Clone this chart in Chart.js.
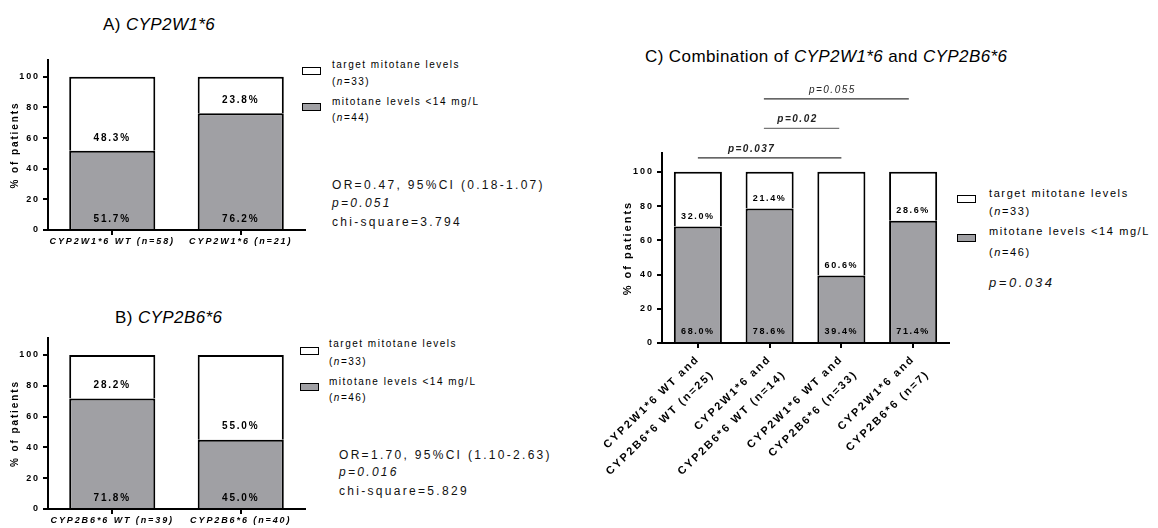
<!DOCTYPE html>
<html lang="en">
<head>
  <meta charset="UTF-8" />
  <title>Mitotane levels by genotype</title>
  <script src="https://cdn.jsdelivr.net/npm/chart.js"></script>
  <style>
    body {
      margin: 0;
      width: 1158px;
      height: 528px;
      background: #fff;
      font-family: "Liberation Sans", Arial, sans-serif;
      position: relative;
      overflow: hidden;
    }
    .box { position: absolute; }
    .t {
      position: absolute;
      white-space: nowrap;
      line-height: 1;
      transform: translateY(-50%);
      color: #000;
    }
    .title { font-size: 17px; letter-spacing: 0.4px; }
    .leg { font-size: 10px; letter-spacing: 1.5px; }
    .legc { font-size: 11px; letter-spacing: 1.6px; }
    .stat { font-size: 12px; letter-spacing: 2.3px; color: #111; }
    .sw {
      position: absolute;
      width: 17px;
      height: 6px;
      border: 1.6px solid #000;
    }
    i { font-style: italic; }
  </style>
</head>
<body>
  <!-- titles -->
  <div class="t title" style="left:103px;top:24px">A) <i>CYP2W1*6</i></div>
  <div class="t title" style="left:115px;top:317px">B) <i>CYP2B6*6</i></div>
  <div class="t title" style="left:645px;top:56px">C) Combination of <i>CYP2W1*6</i> and <i>CYP2B6*6</i></div>

  <!-- legend A -->
  <div class="sw" style="left:302px;top:67px;background:#fff"></div>
  <div class="sw" style="left:302px;top:103px;background:#a0a0a4"></div>
  <div class="t leg" style="left:332px;top:65px">target mitotane levels</div>
  <div class="t leg" style="left:332px;top:82px">(<i>n</i>=33)</div>
  <div class="t leg" style="left:332px;top:102px">mitotane levels &lt;14 mg/L</div>
  <div class="t leg" style="left:332px;top:118px">(<i>n</i>=44)</div>
  <div class="t stat" style="left:332px;top:185px">OR=0.47, 95%CI (0.18-1.07)</div>
  <div class="t stat" style="left:332px;top:203px"><i>p=0.051</i></div>
  <div class="t stat" style="left:332px;top:222px">chi-square=3.794</div>

  <!-- legend B -->
  <div class="sw" style="left:300px;top:347px;background:#fff"></div>
  <div class="sw" style="left:300px;top:383px;background:#a0a0a4"></div>
  <div class="t leg" style="left:329px;top:344px">target mitotane levels</div>
  <div class="t leg" style="left:329px;top:362px">(<i>n</i>=33)</div>
  <div class="t leg" style="left:329px;top:382px">mitotane levels &lt;14 mg/L</div>
  <div class="t leg" style="left:329px;top:398px">(<i>n</i>=46)</div>
  <div class="t stat" style="left:339px;top:455px">OR=1.70, 95%CI (1.10-2.63)</div>
  <div class="t stat" style="left:339px;top:472px"><i>p=0.016</i></div>
  <div class="t stat" style="left:339px;top:491px">chi-square=5.829</div>

  <!-- legend C -->
  <div class="sw" style="left:957px;top:195px;background:#fff"></div>
  <div class="sw" style="left:957px;top:234px;background:#a0a0a4"></div>
  <div class="t legc" style="left:989px;top:193px">target mitotane levels</div>
  <div class="t legc" style="left:989px;top:211px">(<i>n</i>=33)</div>
  <div class="t legc" style="left:989px;top:231px">mitotane levels &lt;14 mg/L</div>
  <div class="t legc" style="left:989px;top:252px">(<i>n</i>=46)</div>
  <div class="t stat" style="left:989px;top:282px;font-size:13px;letter-spacing:2.6px"><i>p=0.034</i></div>

  <div class="box" style="left:0;top:50px"><canvas id="chartA" width="310" height="200"></canvas></div>
  <div class="box" style="left:0;top:328px"><canvas id="chartB" width="310" height="200"></canvas></div>
  <div class="box" style="left:590px;top:80px"><canvas id="chartC" width="365" height="420"></canvas></div>

  <script>
    // panel A: CYP2W1*6
    const catsA = ['CYP2W1*6 WT (n=58)', 'CYP2W1*6 (n=21)'];
    const lowA = [51.7, 76.2];     // mitotane levels <14 mg/L
    const targetA = [48.3, 23.8];  // target mitotane levels

    // panel B: CYP2B6*6
    const catsB = ['CYP2B6*6 WT (n=39)', 'CYP2B6*6 (n=40)'];
    const lowB = [71.8, 45.0];
    const targetB = [28.2, 55.0];

    // panel C: combination
    const catsC = [
      ['CYP2W1*6 WT and', 'CYP2B6*6 WT (n=25)'],
      ['CYP2W1*6 and', 'CYP2B6*6 WT (n=14)'],
      ['CYP2W1*6 WT and', 'CYP2B6*6 (n=33)'],
      ['CYP2W1*6 and', 'CYP2B6*6 (n=7)']
    ];
    const lowC = [68.0, 78.6, 39.4, 71.4];
    const targetC = [32.0, 21.4, 60.6, 28.6];

    // pairwise comparisons drawn above panel C (category indexes)
    const compFrom = [0, 0.92, 0.92];
    const compTo = [2, 1.97, 2.94];
    const compP = ['p=0.037', 'p=0.02', 'p=0.055'];

    const yTicks = [0, 20, 40, 60, 80, 100];

    const GREY = '#a0a0a4';
    const FONT = '"Liberation Sans", Arial, sans-serif';

    // canvas letter spacing for axis text
    const spacing = {
      id: 'spacing',
      beforeLayout(c, a, o) { c.ctx.letterSpacing = o.px; },
      beforeDraw(c, a, o) { c.ctx.letterSpacing = o.px; }
    };

    // percentage labels inside each segment
    const segLabels = {
      id: 'segLabels',
      afterDatasetsDraw(chart, args, o) {
        const ctx = chart.ctx;
        ctx.save();
        ctx.font = o.font;
        ctx.letterSpacing = o.px;
        ctx.fillStyle = '#000';
        ctx.textAlign = 'center';
        ctx.textBaseline = 'middle';
        chart.data.datasets.forEach((ds, di) => {
          chart.getDatasetMeta(di).data.forEach((bar, i) => {
            ctx.fillText(ds.data[i].toFixed(1) + '%', bar.x, bar.base - o.offsets[di]);
          });
        });
        ctx.restore();
      }
    };

    // significance lines for panel C
    const sigLines = {
      id: 'sigLines',
      afterDraw(chart) {
        const ctx = chart.ctx;
        const x = chart.scales.x, y = chart.scales.y;
        const y100 = y.getPixelForValue(100);
        ctx.save();
        ctx.letterSpacing = '1.5px';
        ctx.textAlign = 'center';
        ctx.textBaseline = 'bottom';
        compP.forEach((p, i) => {
          const x1 = x.getPixelForValue(compFrom[i]);
          const x2 = x.getPixelForValue(compTo[i]);
          const ly = y100 - 14 - i * 29.5;
          ctx.strokeStyle = i === 1 ? '#777' : '#333';
          ctx.lineWidth = 1.3;
          ctx.beginPath();
          ctx.moveTo(x1, ly);
          ctx.lineTo(x2, ly);
          ctx.stroke();
          ctx.fillStyle = '#222';
          ctx.font = (i < 2 ? 'italic bold ' : 'italic ') + '10px ' + FONT;
          ctx.fillText(p, (x1 + x2) / 2 - (i === 0 ? 18 : 4), ly - 4);
        });
        ctx.restore();
      }
    };

    function makeChart(id, cats, low, target, cfg) {
      const grid = {
        display: true,
        drawOnChartArea: false,
        drawTicks: true,
        tickLength: 5,
        offset: false,
        color: '#000',
        lineWidth: 2
      };
      return new Chart(document.getElementById(id), {
        type: 'bar',
        data: {
          labels: cats,
          datasets: [
            { label: 'mitotane levels <14 mg/L', data: low, backgroundColor: GREY },
            { label: 'target mitotane levels', data: target, backgroundColor: '#fff' }
          ]
        },
        options: {
          responsive: false,
          animation: false,
          devicePixelRatio: 1,
          layout: { padding: cfg.padding },
          datasets: {
            bar: {
              borderColor: '#000',
              borderWidth: 2,
              borderSkipped: 'start',
              barPercentage: 0.67,
              categoryPercentage: 1
            }
          },
          plugins: {
            legend: { display: false },
            tooltip: { enabled: false },
            spacing: { px: cfg.spacing },
            segLabels: { font: cfg.segFont, px: cfg.segSpacing, offsets: cfg.offsets }
          },
          scales: {
            x: {
              stacked: true,
              grid: grid,
              border: { color: '#000', width: 2 },
              ticks: {
                color: '#000',
                font: cfg.xFont,
                padding: cfg.xPad,
                autoSkip: false,
                minRotation: cfg.rotation,
                maxRotation: cfg.rotation
              },
              afterFit(s) {
                s.height = cfg.xHeight;
                s.paddingLeft = 0;
                s.paddingRight = 0;
              }
            },
            y: {
              stacked: true,
              min: 0,
              max: 111,
              grid: grid,
              border: { color: '#000', width: 2 },
              afterBuildTicks(s) { s.ticks = yTicks.map(v => ({ value: v })); },
              ticks: { color: '#000', font: { family: FONT, size: 9, weight: 'bold' }, padding: 3 },
              title: {
                display: true,
                text: '% of patients',
                color: '#000',
                font: { family: FONT, size: cfg.yTitleSize, weight: 'bold' },
                padding: { top: cfg.yTitlePad }
              },
              afterFit(s) { s.width = cfg.yWidth; }
            }
          }
        },
        plugins: cfg.extra ? [spacing, segLabels, cfg.extra] : [spacing, segLabels]
      });
    }

    const smallCfg = {
      padding: { top: 10, right: 5, left: 0, bottom: 0 },
      spacing: '1.9px',
      segFont: 'bold 10px ' + FONT,
      segSpacing: '1.8px',
      offsets: [10, 13],
      xFont: { family: FONT, size: 9, weight: 'bold', style: 'italic' },
      xPad: 1,
      rotation: 0,
      xHeight: 20,
      yWidth: 48,
      yTitleSize: 10,
      yTitlePad: 9
    };

    makeChart('chartA', catsA, lowA, targetA, smallCfg);
    makeChart('chartB', catsB, lowB, targetB, Object.assign({}, smallCfg, { xHeight: 19 }));
    makeChart('chartC', catsC, lowC, targetC, {
      padding: { top: 73, right: 6, left: 0, bottom: 0 },
      spacing: '2px',
      segFont: 'bold 9px ' + FONT,
      segSpacing: '1.6px',
      offsets: [10, 10],
      xFont: { family: FONT, size: 11, weight: 'bold', lineHeight: 1.9 },
      xPad: 2,
      rotation: 44,
      xHeight: 157,
      yWidth: 72,
      yTitleSize: 11,
      yTitlePad: 31,
      extra: sigLines
    });
  </script>
</body>
</html>
